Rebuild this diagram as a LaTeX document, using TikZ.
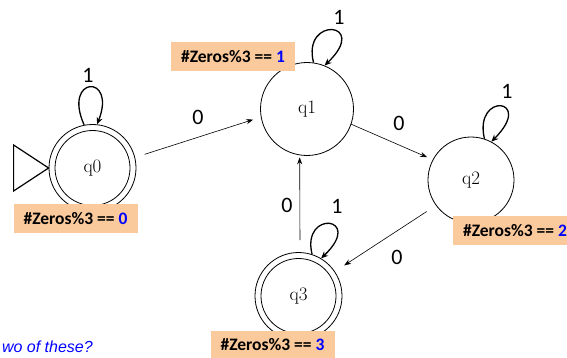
\documentclass[tikz,border=0pt]{standalone}
\usepackage{fontspec}
\newfontfamily\calfont{Carlito}
\newfontfamily\arialfont{Liberation Sans}
\usetikzlibrary{arrows.meta}
\definecolor{peach}{RGB}{250,201,156}
\definecolor{countblue}{RGB}{0,0,255}
\begin{document}
\begin{tikzpicture}[x=1pt,y=-1pt,
  fsmstate/.style={circle, draw, line width=0.8pt, inner sep=0pt,
    font=\fontsize{19}{22}\selectfont},
  countbox/.style={fill=peach, minimum width=124pt, minimum height=29pt,
    inner sep=0pt, font=\calfont\bfseries\fontsize{17.5}{20}\selectfont},
  trans/.style={line width=0.6pt, -{Stealth[length=7pt,width=5pt]}},
  selfloop/.style={line width=1.3pt, -{Stealth[length=7pt,width=6pt]}},
  symlbl/.style={font=\calfont\fontsize{22}{26}\selectfont}]
\useasboundingbox (0,0) rectangle (567,358);

% states
\node[fsmstate, minimum size=87pt] (q0) at (92.5,168) {q0};
\draw[line width=0.8pt] (q0.center) circle (37.5);
\node[fsmstate, minimum size=93pt] (q1) at (307,109) {q1};
\node[fsmstate, minimum size=86pt] (q2) at (471,180) {q2};
\node[fsmstate, minimum size=87pt] (q3) at (298.5,296) {q3};
\draw[line width=0.8pt] (q3.center) circle (37.5);

% start marker
\draw[line width=1.2pt] (q0.west) -- ++(-35,-23) -- ++(0,46) -- cycle;

% transitions on 0
\draw[trans, shorten <=10pt, shorten >=8pt] (q0.14) -- (q1.190);
\draw[trans, shorten >=6pt] (q1.-19) -- (q2.152);
\draw[trans, shorten <=11pt, shorten >=11pt] (q2.216) -- (q3.34);
\draw[trans, shorten <=12pt, shorten >=2pt] (q3.88) -- (q1.261);

% self loops on 1 (y grows downwards here, so negative offsets point up)
\draw[selfloop] (q0.101) .. controls +(-22,-49) and +(20,-51) .. (q0.84);
\draw[selfloop] (q1.82) .. controls +(-12,-47) and +(46,-44) .. (q1.68);
\draw[selfloop] (q2.72) .. controls +(-11,-47) and +(44,-44) .. (q2.62);
\draw[selfloop] (q3.72) .. controls +(-11,-45) and +(44,-42) .. (q3.59);

% symbols
\node[symlbl] (l01) at (198,117) {0};
\node[symlbl] (l12) at (399,123) {0};
\node[symlbl] (l23) at (397,257) {0};
\node[symlbl] (l31) at (287,205) {0};
\node[symlbl] (s0) at (88,75) {1};
\node[symlbl] (s1) at (339,17) {1};
\node[symlbl] (s2) at (507,91) {1};
\node[symlbl] (s3) at (337,206) {1};

% zero counters
\node[countbox] (c0) at (75.5,218.5) {\#Zeros\%3 == \textcolor{countblue}{0}};
\node[countbox] (c1) at (233,57) {\#Zeros\%3 == \textcolor{countblue}{1}};
\node[countbox] (c2) at (515,230.5) {\#Zeros\%3 == \textcolor{countblue}{2}};
\node[countbox] (c3) at (272.5,345) {\#Zeros\%3 == \textcolor{countblue}{3}};

% question
\node[anchor=base east, inner sep=0pt, text=countblue,
  font=\arialfont\itshape\fontsize{16}{19}\selectfont] (qn) at (93,352) {wo of these?};
\end{tikzpicture}
\end{document}
